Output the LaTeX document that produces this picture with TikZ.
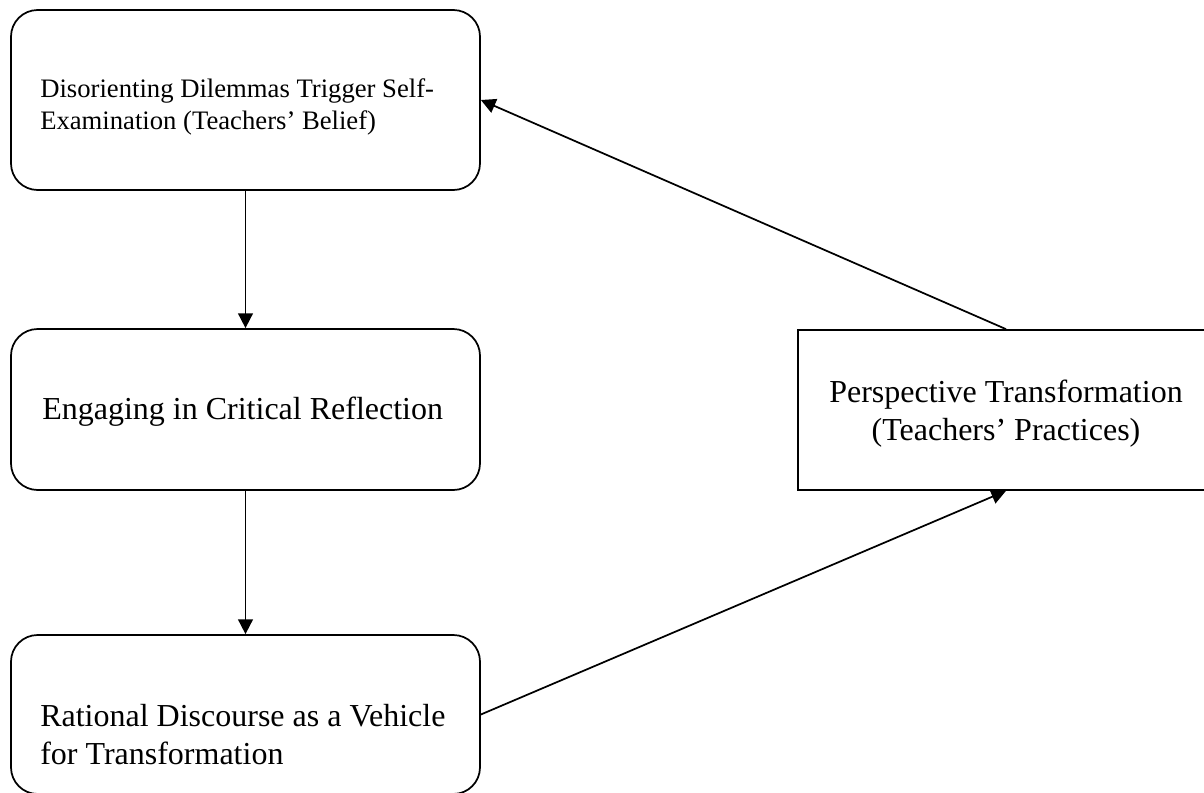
\documentclass[tikz,border=0pt]{standalone}
\usepackage{fontspec}
\setmainfont{Liberation Serif}
\usetikzlibrary{arrows.meta}
\tikzset{
  box/.style={draw, line width=1.3pt, inner sep=0pt, minimum width=351.75pt},
  rbox/.style={box, rounded corners=20pt},
  arr/.style={line width=1.3pt, -{Triangle[length=11pt,width=11pt]}},
  smalltxt/.style={inner sep=0pt, align=left, font=\fontsize{20}{24}\selectfont},
  bigtxt/.style={inner sep=0pt, align=left, font=\fontsize{24}{28.5}\selectfont},
}
\begin{document}
\begin{tikzpicture}[x=0.75pt,y=-0.75pt]
\clip (0,0) rectangle (1204,793);
\fill[white] (0,0) rectangle (1204,793);
% boxes
\node[rbox, minimum height=135pt] (b1) at (245.5,100) {};
\node[rbox, minimum height=120.75pt] (b2) at (245.5,409.5) {};
\node[rbox, minimum height=119.25pt] (b3) at (245.5,714.5) {};
\node[box, minimum width=312pt, minimum height=120pt] (b4) at (1006,410) {};
% texts
\node[smalltxt, anchor=north west] (t1) at (40,74.6)
  {\strut Disorienting Dilemmas Trigger Self-\\\strut Examination (Teachers’ Belief)};
\node[bigtxt, anchor=base west] (t2) at (42,419) {Engaging in Critical Reflection};
\node[bigtxt, anchor=north west] (t3) at (40,699.4)
  {\strut Rational Discourse as a Vehicle\\\strut for Transformation};
\node[bigtxt, align=center, anchor=north] (t4) at (1006,375.4)
  {\strut Perspective Transformation\\\strut (Teachers’ Practices)};
% connectors
\draw[arr] (b1.south) -- (b2.north);
\draw[arr] (b2.south) -- (b3.north);
\draw[arr] (b3.east) -- (b4.south);
\draw[arr] (b4.north) -- (b1.east);
\end{tikzpicture}
\end{document}
